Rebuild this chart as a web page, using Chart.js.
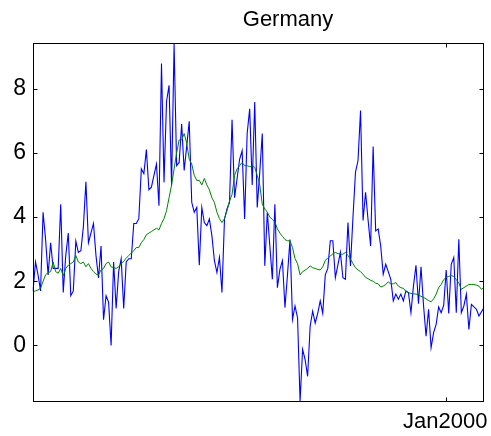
<!DOCTYPE html>
<html>
<head>
<meta charset="utf-8">
<script src="https://cdn.jsdelivr.net/npm/chart.js@4.4.1/dist/chart.umd.min.js"></script>
<style>
  html, body { margin: 0; padding: 0; background: #fff; }
</style>
</head>
<body>
<canvas id="chart" width="491" height="436"></canvas>
<script>
//////////////////////////////
// Data
//////////////////////////////

const chartTitle = "Germany";

// monthly labels, May1986 .. Apr2001
const monthNames = ["Jan", "Feb", "Mar", "Apr", "May", "Jun", "Jul", "Aug", "Sep", "Oct", "Nov", "Dec"];
const categories = [];
for (let i = 0; i < 180; i++) {
  const m = (4 + i) % 12;
  const yr = 1986 + Math.floor((4 + i) / 12);
  categories.push(monthNames[m] + yr);
}

// blue: monthly rate
const monthlyRate = [
  1.7, 2.6, 2.2, 1.7, 4.15, 3.3, 2.2, 3.2, 2.4, 2.4,
  2.4, 4.4, 1.65, 2.8, 3.5, 1.55, 1.7, 3.25, 2.9, 2.95,
  3.7, 5.1, 3.2, 3.5, 3.8, 2.8, 2.1, 3.1, 0.8, 1.55,
  1.35, 0.0, 2.6, 1.15, 2.3, 2.7, 1.15, 2.6, 2.7, 2.7,
  3.8, 3.8, 3.95, 5.5, 5.35, 6.1, 4.85, 4.93, 5.3, 5.65,
  4.35, 8.78, 5.08, 7.6, 8.1, 4.98, 9.4, 5.6, 5.7, 6.9,
  5.45, 6.2, 6.98, 4.46, 4.15, 4.3, 2.5, 4.3, 3.83, 3.73,
  3.94, 3.42, 2.64, 2.27, 2.74, 1.65, 3.94, 4.25, 4.46, 7.03,
  4.6, 5.2, 5.8, 6.07, 3.94, 6.6, 7.37, 5.0, 7.58, 4.3,
  5.4, 6.6, 2.48, 4.15, 3.1, 2.06, 4.4, 1.8, 2.37, 2.64,
  1.18, 2.2, 3.3, 0.81, 1.23, 0.86, -1.74, -0.12, -0.44, -0.96,
  0.6, 1.07, 0.7, 1.0, 1.39, 1.0, 2.2, 2.4, 3.26, 3.26,
  2.11, 2.5, 2.9, 2.11, 2.06, 3.83, 2.48, 4.0, 5.4, 5.76,
  7.32, 3.89, 4.77, 3.9, 3.1, 6.2, 3.57, 3.63, 3.1, 2.22,
  2.53, 2.3, 2.06, 1.39, 1.6, 1.44, 1.6, 1.39, 1.7, 1.65,
  1.02, 1.85, 2.5, 1.3, 2.45, 1.25, 0.29, 1.13, -0.07, 0.4,
  0.66, 1.2, 1.02, 1.25, 2.35, 1.0, 2.53, 2.74, 1.02, 3.31,
  1.02, 1.23, 1.6, 0.5, 1.28, 1.2, 1.13, 0.92, 1.05, 1.18
];

// green: smoothed rate
const smoothedRate = [
  1.68, 1.7, 1.73, 1.78, 2.0, 2.2, 2.27, 2.3, 2.6, 2.3,
  2.25, 2.4, 2.17, 2.4, 2.5, 2.55, 2.6, 2.8, 2.6, 2.55,
  2.6, 2.45, 2.55, 2.4, 2.3, 2.22, 2.2, 2.35, 2.4, 2.55,
  2.6, 2.45, 2.42, 2.4, 2.45, 2.55, 2.62, 2.72, 2.8, 2.88,
  2.95, 3.05, 3.05, 3.2, 3.3, 3.45, 3.5, 3.55, 3.6, 3.65,
  3.6, 3.8, 3.95, 4.2, 4.6, 5.0, 5.5, 6.0, 6.4, 6.4,
  6.6, 6.3, 5.8, 5.65, 5.3, 5.14, 5.14, 5.0, 5.2, 5.0,
  4.85, 4.6, 4.45, 4.15, 3.95, 3.83, 3.95, 4.2, 4.5, 4.7,
  5.3, 5.5, 5.6, 5.7, 5.6, 5.6, 5.57, 5.6, 5.55, 5.3,
  5.0, 4.4, 4.25, 4.15, 4.0, 3.92, 3.85, 3.63, 3.5, 3.4,
  3.3, 3.26, 3.26, 3.05, 2.7, 2.55, 2.2, 2.3, 2.35, 2.4,
  2.48, 2.42, 2.4, 2.37, 2.35, 2.45, 2.65, 2.72, 2.79, 2.85,
  2.9, 2.86, 2.85, 2.84, 2.9, 2.8, 2.69, 2.55, 2.42, 2.35,
  2.3, 2.22, 2.12, 2.08, 2.03, 2.0, 1.94, 1.92, 1.82, 1.85,
  1.9, 1.98, 1.92, 1.92, 1.96, 1.85, 1.8, 1.78, 1.68, 1.65,
  1.62, 1.61, 1.6, 1.58, 1.53, 1.5, 1.45, 1.4, 1.36, 1.45,
  1.6, 1.8, 1.9, 2.05, 2.12, 2.15, 2.18, 2.15, 2.05, 1.95,
  1.75, 1.8, 1.85, 1.9, 1.9, 1.9, 1.88, 1.85, 1.75, 1.8
];

const yTicks = [0, 2, 4, 6, 8];
const xTickLabels = ["Jan2000"];

//////////////////////////////
// Frame, inward ticks and title (matlab look)
//////////////////////////////

const matlabFrame = {
  id: "matlabFrame",
  afterDraw(chart) {
    const { ctx, chartArea: a, scales: { x, y } } = chart;
    const L = Math.round(a.left) + 0.5, R = Math.round(a.right) - 0.5;
    const T = Math.round(a.top) + 0.5, B = Math.round(a.bottom) - 0.5;
    ctx.save();
    ctx.strokeStyle = "#000";
    ctx.lineWidth = 1;
    ctx.strokeRect(L, T, R - L, B - T);

    ctx.beginPath();
    y.ticks.forEach(t => {
      const py = Math.round(y.getPixelForValue(t.value)) + 0.5;
      ctx.moveTo(L, py); ctx.lineTo(L + 4, py);
      ctx.moveTo(R, py); ctx.lineTo(R - 4, py);
    });
    x.ticks.forEach(t => {
      if (!xTickLabels.includes(categories[t.value])) return;
      const px = Math.round(x.getPixelForValue(t.value)) + 0.5;
      ctx.moveTo(px, T); ctx.lineTo(px, T + 4);
      ctx.moveTo(px, B); ctx.lineTo(px, B - 4);
    });
    ctx.stroke();

    ctx.fillStyle = "#000";
    ctx.font = '22px "Liberation Sans", Arial, sans-serif';
    ctx.textAlign = "center";
    ctx.textBaseline = "alphabetic";
    ctx.fillText(chartTitle, 288, 26);
    ctx.restore();
  }
};

//////////////////////////////
// Chart
//////////////////////////////

const fontFamily = '"Liberation Sans", Arial, sans-serif';

new Chart(document.getElementById("chart"), {
  type: "line",
  data: {
    labels: categories,
    datasets: [
      {
        label: "monthly",
        data: monthlyRate,
        borderColor: "#0000ff",
        borderWidth: 1.1,
        pointRadius: 0,
        tension: 0,
        order: 1
      },
      {
        label: "smoothed",
        data: smoothedRate,
        borderColor: "#008000",
        borderWidth: 1,
        pointRadius: 0,
        tension: 0,
        order: 0
      }
    ]
  },
  options: {
    responsive: false,
    animation: false,
    devicePixelRatio: 1,
    layout: { padding: { top: 43, right: 6, left: 0, bottom: 0 } },
    plugins: {
      legend: { display: false },
      tooltip: { enabled: false },
      title: { display: false }
    },
    scales: {
      x: {
        type: "category",
        offset: false,
        grid: { display: false, drawTicks: false },
        border: { display: false },
        afterFit: scale => { scale.height = 34; },
        ticks: {
          autoSkip: false,
          maxRotation: 0,
          minRotation: 0,
          padding: 7,
          labelOffset: -1,
          color: "#000",
          font: { family: fontFamily, size: 22 },
          callback: function (value) {
            const lbl = this.getLabelForValue(value);
            return xTickLabels.includes(lbl) ? lbl : "";
          }
        }
      },
      y: {
        min: -1.76,
        max: 9.42,
        grid: { display: false, drawTicks: false },
        border: { display: false },
        afterFit: scale => { scale.width = 33; },
        afterBuildTicks: scale => { scale.ticks = yTicks.map(v => ({ value: v })); },
        ticks: {
          padding: 7,
          color: "#000",
          font: { family: fontFamily, size: 23 }
        }
      }
    }
  },
  plugins: [matlabFrame]
});
</script>
</body>
</html>
